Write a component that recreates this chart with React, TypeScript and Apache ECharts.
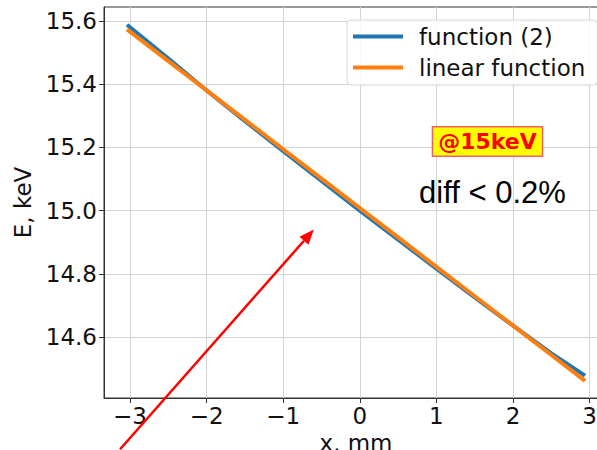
import React, { useEffect, useRef } from "react";
import * as echarts from "echarts";

const xs = [-3.04, -2.5, -2, -1.5, -1, -0.5, 0, 0.5, 1, 1.5, 2, 2.5, 2.94];
const functionTwo = [15.588, 15.481, 15.38, 15.283, 15.188, 15.094, 15.0, 14.908, 14.816, 14.725, 14.636, 14.548, 14.478];
const linearFunction = [15.573, 15.473, 15.38, 15.287, 15.194, 15.101, 15.008, 14.915, 14.822, 14.729, 14.636, 14.543, 14.461];
const xTicks = [-3, -2, -1, 0, 1, 2, 3];
const yTicks = [14.6, 14.8, 15.0, 15.2, 15.4, 15.6];
const arrowFrom = [-3.13, 14.245];
const arrowTo = [-0.6, 14.94];

const FONT = "DejaVu Sans";
const FS = 23;

export default function App() {
  const ref = useRef<HTMLDivElement>(null);
  useEffect(() => {
    if (!ref.current) return;
    const chart = echarts.init(ref.current, undefined, { renderer: "svg" });
    const axisColor = "#333";
    const option: any = {
      animation: false,
      grid: {
        left: 104, right: -11, top: 7, bottom: 52,
        show: true, borderColor: axisColor, borderWidth: 1,
        outerBoundsMode: "none", containLabel: false,
      },
      legend: {
        left: 347, top: 20, orient: "vertical",
        itemWidth: 50, itemHeight: 4, itemGap: 8, icon: "rect",
        padding: [5, 12, 6, 6],
        backgroundColor: "rgba(255,255,255,0.85)",
        borderColor: "#d8d8d8", borderWidth: 1, borderRadius: 4,
        textStyle: { fontSize: FS, fontFamily: FONT, color: "#111", padding: [0, 0, 0, 11] },
      },
      xAxis: {
        type: "value", min: -3.34, max: 3.24,
        name: "x, mm", nameLocation: "middle", nameGap: 29,
        nameTextStyle: { fontSize: FS, fontFamily: FONT, color: "#111" },
        axisLine: { show: true, onZero: false, lineStyle: { color: axisColor } },
        axisTick: { show: true, length: 5, customValues: xTicks, lineStyle: { color: axisColor } },
        axisLabel: {
          customValues: xTicks, fontSize: FS, fontFamily: FONT, color: "#111", margin: 6,
          formatter: (v: number) => String(v).replace("-", "\u2212"),
        },
        splitLine: { show: true, lineStyle: { color: "#d3d3d3", width: 1 } },
      },
      yAxis: {
        type: "value", min: 14.407, max: 15.644,
        name: "E, keV", nameLocation: "middle", nameGap: 66,
        nameTextStyle: { fontSize: FS, fontFamily: FONT, color: "#111" },
        axisLine: { show: true, onZero: false, lineStyle: { color: axisColor } },
        axisTick: { show: true, length: 5, customValues: yTicks, lineStyle: { color: axisColor } },
        axisLabel: {
          customValues: yTicks, fontSize: FS, fontFamily: FONT, color: "#111", margin: 7,
          formatter: (v: number) => v.toFixed(1),
        },
        splitLine: { show: true, lineStyle: { color: "#d3d3d3", width: 1 } },
      },
      series: [
        {
          name: "function (2)", type: "line", showSymbol: false, symbol: "none",
          data: xs.map((x, i) => [x, functionTwo[i]]),
          lineStyle: { color: "#1f77b4", width: 4 }, itemStyle: { color: "#1f77b4" },
        },
        {
          name: "linear function", type: "line", showSymbol: false, symbol: "none",
          data: xs.map((x, i) => [x, linearFunction[i]]),
          lineStyle: { color: "#ff7f0e", width: 4 }, itemStyle: { color: "#ff7f0e" },
        },
      ],
    };
    chart.setOption(option);

    const p0 = chart.convertToPixel({ gridIndex: 0 }, arrowFrom) as number[];
    const p1 = chart.convertToPixel({ gridIndex: 0 }, arrowTo) as number[];
    const dx = p1[0] - p0[0];
    const dy = p1[1] - p0[1];
    const len = Math.sqrt(dx * dx + dy * dy);
    const ux = dx / len, uy = dy / len;
    const headLen = 15, headW = 6;
    const bx = p1[0] - ux * headLen, by = p1[1] - uy * headLen;
    chart.setOption({
      graphic: [
        {
          type: "line", z: 100,
          shape: { x1: p0[0], y1: p0[1], x2: bx, y2: by },
          style: { stroke: "#ff0000", lineWidth: 2.5 },
        },
        {
          type: "polygon", z: 100,
          shape: {
            points: [
              [p1[0], p1[1]],
              [bx - uy * headW, by + ux * headW],
              [bx + uy * headW, by - ux * headW],
            ],
          },
          style: { fill: "#ff0000" },
        },
        {
          type: "text", z: 100, x: 487.5, y: 141.5,
          style: {
            text: "@15keV", fill: "#ff0000", font: `bold 22px '${FONT}'`,
            align: "center", verticalAlign: "middle",
            backgroundColor: "#ffff00", borderColor: "#f06060", borderWidth: 1.5,
            padding: [3, 5, 3, 5],
          },
        },
        {
          type: "text", z: 100, x: 492.5, y: 192,
          style: {
            text: "diff < 0.2%", fill: "#000", font: "31px 'Liberation Sans'",
            align: "center", verticalAlign: "middle",
          },
        },
      ],
    });
    return () => chart.dispose();
  }, []);
  return <div ref={ref} style={{ width: 597, height: 450, position: "absolute", left: 0, top: 0 }} />;
}
